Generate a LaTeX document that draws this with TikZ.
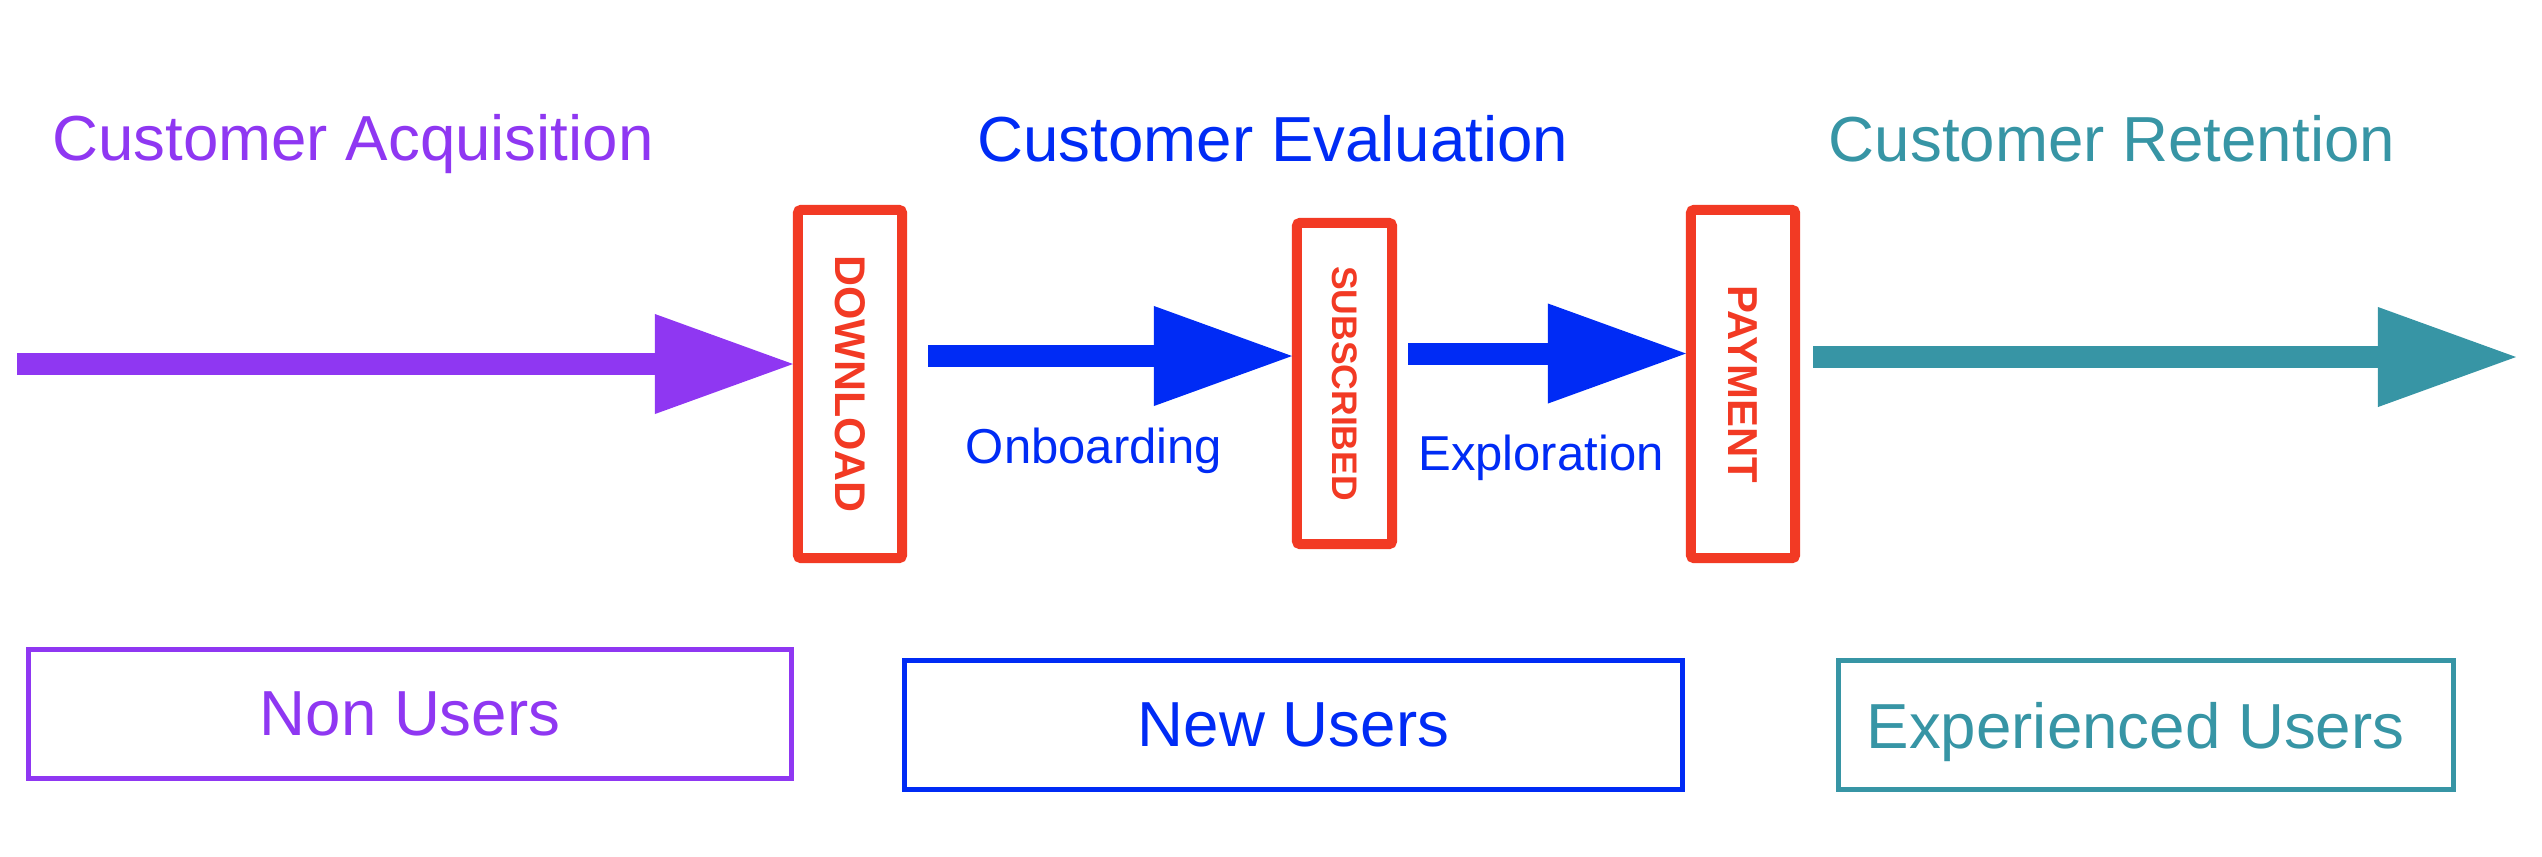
\documentclass[tikz,border=0pt]{standalone}
\usepackage{fontspec}
\setmainfont{Liberation Sans}
\usetikzlibrary{arrows.meta,calc}
\definecolor{cpurple}{RGB}{143,55,242}
\definecolor{cblue}{RGB}{0,43,245}
\definecolor{cteal}{RGB}{55,149,165}
\definecolor{cred}{RGB}{242,58,36}
\begin{document}
\begin{tikzpicture}[x=0.01cm,y=-0.01cm,
  redbox/.style={draw=cred, line width=0.1cm, rounded corners=0.03cm, inner sep=0pt, text=cred},
  userbox/.style={draw=#1, text=#1, line width=0.05cm, inner sep=0pt, minimum height=1.28cm, text depth=0pt, font=\fontsize{18.1pt}{20pt}\selectfont},
  phasetitle/.style={anchor=base, text=#1, inner sep=0pt, font=\fontsize{18.1pt}{20pt}\selectfont},
  flowlabel/.style={anchor=base, text=cblue, inner sep=0pt, font=\fontsize{13.94pt}{16pt}\selectfont},
  fatarrow/.style={line width=0.22cm, color=#1, -{Triangle[length=1.38cm,width=1.0cm,line width=0pt]}}
]
\useasboundingbox (0,0) rectangle (2542,856);

% phase titles
\node[phasetitle=cpurple] (ta) at (353,160) {Customer Acquisition};
\node[phasetitle=cblue] (tb) at (1273,161) {Customer Evaluation};
\node[phasetitle=cteal] (tc) at (2112,161) {Customer Retention};

% milestone boxes
\node[redbox, minimum width=1.04cm, minimum height=3.48cm, font=\bfseries\fontsize{12.2pt}{14pt}\selectfont] (dl) at (850,384) {\rotatebox{-90}{DOWNLOAD}};
\node[redbox, minimum width=0.95cm, minimum height=3.21cm, font=\bfseries\fontsize{10.1pt}{12pt}\selectfont] (sub) at (1344.5,383.5) {\rotatebox{-90}{SUBSCRIBED}};
\node[redbox, minimum width=1.04cm, minimum height=3.48cm, font=\bfseries\fontsize{11.9pt}{13pt}\selectfont] (pay) at (1743,384) {\rotatebox{-90}{PAYMENT}};

% stage labels
\node[flowlabel] (ob) at (1094,463) {Onboarding};
\node[flowlabel] (ex) at (1541,470) {Exploration};

% user groups
\node[userbox=cpurple, minimum width=7.62cm] (nu) at (410,714) {Non Users};
\node[userbox=cblue, minimum width=7.77cm] (nw) at (1293.5,725) {New Users};
\node[userbox=cteal, minimum width=6.14cm] (eu) at (2146,725) {Experienced Users\hspace*{0.21cm}};

% arrows
\coordinate (ps) at (17,364);
\draw[fatarrow=cpurple] (ps) -- (ps -| dl.west);
\coordinate (b1) at ($(dl.east)+(21,-28)$);
\draw[fatarrow=cblue] (b1) -- (b1 -| sub.west);
\coordinate (b2) at ($(sub.east)+(11,-30)$);
\draw[fatarrow=cblue] (b2) -- (b2 -| pay.west);
\coordinate (ts) at ($(pay.east)+(13,-27)$);
\coordinate (te) at (2516,357);
\draw[fatarrow=cteal] (ts) -- (te);
\end{tikzpicture}
\end{document}
